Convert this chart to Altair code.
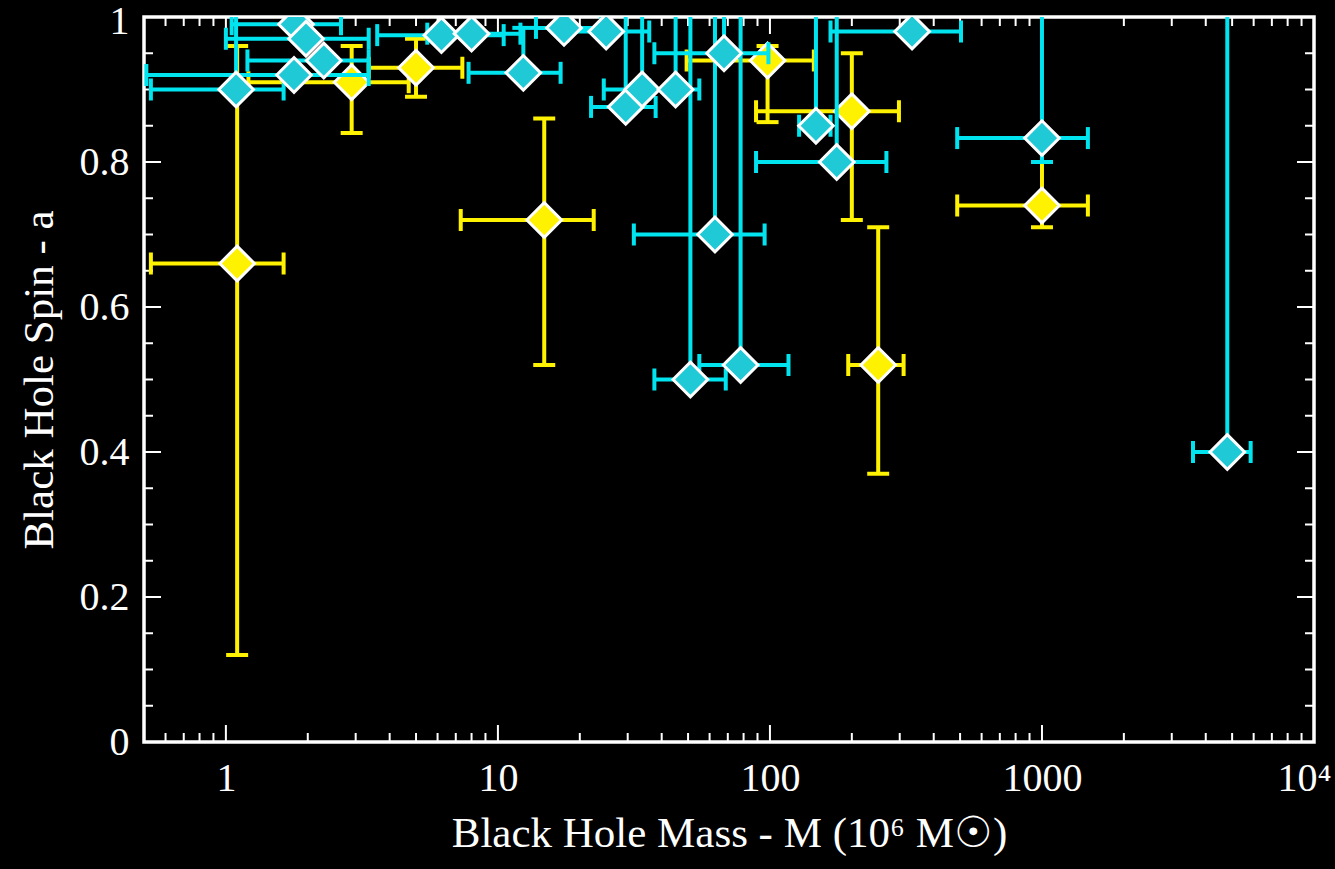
import altair as alt
import pandas as pd

# ---------------- data ----------------
# Yellow series: mass (10^6 Msun), spin, mass range, spin range
y_mass    = [1.1, 2.9, 5.0, 14.8, 98, 200, 250, 1000]
y_spin    = [0.66, 0.91, 0.93, 0.72, 0.94, 0.87, 0.52, 0.74]
y_mass_lo = [0.53, 1.21, 3.35, 7.3, 49.4, 88.9, 194, 488]
y_mass_hi = [1.63, 4.7, 7.4, 22.5, 145, 298, 310, 1475]
y_spin_lo = [0.12, 0.84, 0.89, 0.52, 0.855, 0.72, 0.37, 0.71]
y_spin_hi = [0.96, 0.96, 0.97, 0.86, 0.96, 0.95, 0.71, 0.80]

# Cyan series (spin_hi > 1 means the bar runs off the top of the frame)
c_mass    = [1.09, 1.78, 1.81, 1.97, 2.29, 6.2, 8.0, 12.4, 17.5, 25, 29.5, 33.9,
             45, 51, 62.8, 67.8, 78, 147.6, 176, 333, 1000, 4800]
c_spin    = [0.90, 0.92, 0.99, 0.97, 0.94, 0.975, 0.977, 0.923, 0.985, 0.98, 0.876, 0.90,
             0.90, 0.50, 0.70, 0.95, 0.52, 0.85, 0.80, 0.98, 0.833, 0.40]
c_mass_lo = [0.53, 0.51, 1.05, 1.0, 1.2, 3.6, 5.5, 7.8, 13.8, 18, 22, 24.5,
             36, 37.6, 31.6, 37.6, 55, 128, 88.9, 167, 488, 3590]
c_mass_hi = [1.63, 3.35, 2.65, 3.35, 3.35, 10.5, 12.1, 17.0, 24, 36, 38, 45,
             55, 68.8, 95.6, 98.7, 117, 167, 268, 504, 1475, 5850]
c_spin_lo = [0.90, 0.92, 0.99, 0.97, 0.94, 0.975, 0.977, 0.923, 0.985, 0.98, 0.876, 0.90,
             0.90, 0.50, 0.70, 0.95, 0.52, 0.85, 0.80, 0.98, 0.80, 0.40]
c_spin_hi = [1.05, 0.92, 0.99, 0.97, 0.94, 0.975, 0.977, 0.985, 0.985, 0.98, 1.05, 1.05,
             1.05, 1.05, 1.05, 1.05, 1.05, 1.05, 1.05, 0.98, 1.05, 1.05]

x_major = [1, 10, 100, 1000, 10000]
x_minor = [0.6, 0.7, 0.8, 0.9] + [m * d for d in (1, 10, 100, 1000) for m in range(2, 10)]
y_major = [0, 0.2, 0.4, 0.6, 0.8, 1.0]
y_minor = [0.05, 0.1, 0.15, 0.25, 0.3, 0.35, 0.45, 0.5, 0.55, 0.65, 0.7, 0.75, 0.85, 0.9, 0.95]

# ---------------- styling ----------------
W, H = 1170, 725
FONT = "Liberation Serif"
YEL_LINE, YEL_FILL = "#fff200", "#fff200"
CY_LINE, CY_FILL = "#00e4f0", "#1fcad6"
LW = 4
CAP = 22
MAJ, MIN = 17, 9

xs = alt.Scale(type="log", domain=[0.5, 10000], nice=False)
ys = alt.Scale(domain=[0, 1], nice=False, zero=False)

xa = alt.Axis(values=x_major, ticks=False, domain=False, grid=False,
              labelExpr="datum.value == 10000 ? '10\u2074' : format(datum.value, 'd')",
              labelAlign={"condition": {"test": "datum.value == 10000", "value": "right"},
                          "value": "center"},
              labelOffset={"condition": {"test": "datum.value == 10000", "value": 17},
                           "value": 0},
              labelFontSize=40, labelPadding=16, labelFlush=False,
              title="Black Hole Mass - M (10\u2076 M\u2609)", titleFontSize=43, titlePadding=14)
ya = alt.Axis(values=y_major, ticks=False, domain=False, grid=False,
              labelExpr="datum.value == 0 ? '0' : datum.value == 1 ? '1' : format(datum.value, '.1f')",
              labelOffset={"condition": {"test": "datum.value == 1", "value": 4},
                           "value": 0},
              labelFontSize=40, labelPadding=15, labelFlush=False,
              title="Black Hole Spin - a", titleFontSize=43, titlePadding=18)


def X(f):
    return alt.X(f, type="quantitative", scale=xs, axis=xa)


def Y(f):
    return alt.Y(f, type="quantitative", scale=ys, axis=ya)


def frame(m, a, mlo, mhi, alo, ahi):
    return pd.DataFrame({"M": m, "a": a, "mlo": mlo, "mhi": mhi, "alo": alo, "ahi": ahi})


def series_layers(df, line, fill):
    dv = df[df["alo"] < df["ahi"]]
    dlo = df[df["alo"] < df["a"]]
    dhi = df[df["ahi"] > df["a"]]
    hbar = alt.Chart(df).mark_rule(color=line, strokeWidth=LW, clip=True).encode(
        x=X("mlo"), x2=alt.X2("mhi"), y=Y("a"))
    hcap_l = alt.Chart(df).mark_tick(color=line, orient="vertical", size=CAP, thickness=LW,
                                     opacity=1, clip=True).encode(x=X("mlo"), y=Y("a"))
    hcap_r = alt.Chart(df).mark_tick(color=line, orient="vertical", size=CAP, thickness=LW,
                                     opacity=1, clip=True).encode(x=X("mhi"), y=Y("a"))
    vbar = alt.Chart(dv).mark_rule(color=line, strokeWidth=LW, clip=True).encode(
        x=X("M"), y=Y("alo"), y2=alt.Y2("ahi"))
    vcap_l = alt.Chart(dlo).mark_tick(color=line, orient="horizontal", size=CAP, thickness=LW,
                                      opacity=1, clip=True).encode(x=X("M"), y=Y("alo"))
    vcap_h = alt.Chart(dhi).mark_tick(color=line, orient="horizontal", size=CAP, thickness=LW,
                                      opacity=1, clip=True).encode(x=X("M"), y=Y("ahi"))
    pts = alt.Chart(df).mark_point(shape="diamond", filled=True, fill=fill, stroke="white",
                                   strokeWidth=3, size=1200, opacity=1, clip=True).encode(
        x=X("M"), y=Y("a"))
    return [hbar, hcap_l, hcap_r, vbar, vcap_l, vcap_h, pts]


yel = frame(y_mass, y_spin, y_mass_lo, y_mass_hi, y_spin_lo, y_spin_hi)
cya = frame(c_mass, c_spin, c_mass_lo, c_mass_hi, c_spin_lo, c_spin_hi)

# inward-pointing frame ticks (all four sides)
xmaj = pd.DataFrame({"v": x_major})
xmin = pd.DataFrame({"v": x_minor})
ymaj = pd.DataFrame({"v": y_major})
ymin = pd.DataFrame({"v": y_minor})
TK = dict(color="white", strokeWidth=2)
ticks = [
    alt.Chart(xmaj).mark_rule(**TK).encode(x=X("v"), y=alt.value(H), y2=alt.value(H - MAJ)),
    alt.Chart(xmin).mark_rule(**TK).encode(x=X("v"), y=alt.value(H), y2=alt.value(H - MIN)),
    alt.Chart(xmaj).mark_rule(**TK).encode(x=X("v"), y=alt.value(0), y2=alt.value(MAJ)),
    alt.Chart(xmin).mark_rule(**TK).encode(x=X("v"), y=alt.value(0), y2=alt.value(MIN)),
    alt.Chart(ymaj).mark_rule(**TK).encode(y=Y("v"), x=alt.value(0), x2=alt.value(MAJ)),
    alt.Chart(ymin).mark_rule(**TK).encode(y=Y("v"), x=alt.value(0), x2=alt.value(MIN)),
    alt.Chart(ymaj).mark_rule(**TK).encode(y=Y("v"), x=alt.value(W), x2=alt.value(W - MAJ)),
    alt.Chart(ymin).mark_rule(**TK).encode(y=Y("v"), x=alt.value(W), x2=alt.value(W - MIN)),
]

layers = ticks + series_layers(yel, YEL_LINE, YEL_FILL) + series_layers(cya, CY_LINE, CY_FILL)

chart = alt.layer(*layers).properties(
    width=W, height=H,
    autosize=alt.AutoSizeParams(type="none"),
    padding={"left": 144, "top": 17, "right": 21, "bottom": 127},
    background="black",
).configure_view(
    stroke="white", strokeWidth=3.5
).configure_axis(
    labelColor="white", titleColor="white", labelFont=FONT, titleFont=FONT,
    titleFontWeight="normal",
)

chart.save("out.html", embed_options={"renderer": "svg", "actions": False})
